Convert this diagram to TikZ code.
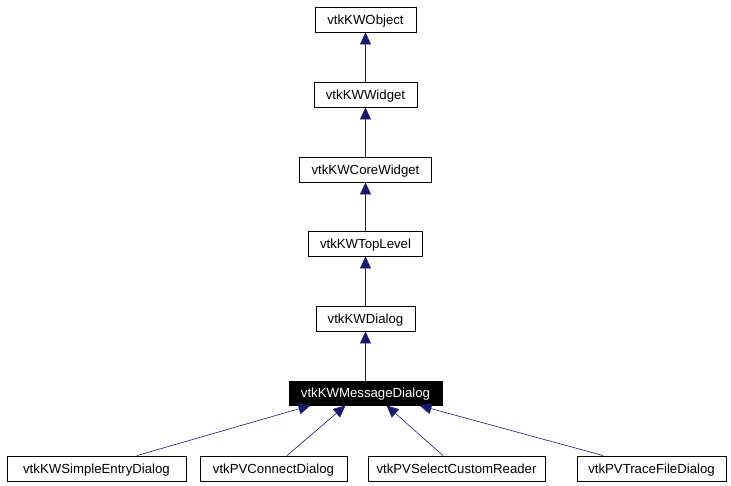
\documentclass[tikz,border=0pt]{standalone}
\usepackage{fontspec}
\setmainfont{Liberation Sans}
\usetikzlibrary{arrows.meta}
\definecolor{edgeblue}{HTML}{191970}
\begin{document}
\begin{tikzpicture}[x=1pt,y=-1pt,
  cls/.style={draw=black,line width=0.9pt,fill=white,inner sep=0pt,minimum height=25pt,text height=9.5pt,text depth=0pt,font=\fontsize{13.2}{15}\selectfont},
  cur/.style={cls,fill=black,text=white},
  arr/.style={draw=edgeblue,line width=0.9pt,-{Triangle[length=12pt,width=11pt]},color=edgeblue},
  arrt/.style={arr,line width=0.6pt}]
\useasboundingbox (0,0) rectangle (731,485);
\node[cls,minimum width=101pt] (obj) at (365.5,19.5) {vtkKWObject};
\node[cls,minimum width=103pt] (wid) at (365.5,94.5) {vtkKWWidget};
\node[cls,minimum width=132pt] (core) at (365.5,169.5) {vtkKWCoreWidget};
\node[cls,minimum width=114pt] (top) at (365.5,243.5) {vtkKWTopLevel};
\node[cls,minimum width=99pt] (dlg) at (365.5,318.5) {vtkKWDialog};
\node[cur,minimum width=153pt,minimum height=24pt] (msg) at (365.5,393) {vtkKWMessageDialog};
\node[cls,minimum width=179pt] (se) at (96.5,468.5) {vtkKWSimpleEntryDialog};
\node[cls,minimum width=147pt] (cd) at (273.5,468.5) {vtkPVConnectDialog};
\node[cls,minimum width=177pt] (scr) at (456.5,468.5) {vtkPVSelectCustomReader};
\node[cls,minimum width=149pt] (tfd) at (651.5,468.5) {vtkPVTraceFileDialog};
\draw[arr] (wid.north) -- (obj.south);
\draw[arr] (core.north) -- (wid.south);
\draw[arr] (top.north) -- (core.south);
\draw[arr] (dlg.north) -- (top.south);
\draw[arr] (msg.north) -- (dlg.south);
\draw[arrt] ([xshift=40.5pt]se.north) -- ([xshift=-55pt]msg.south);
\draw[arrt] ([xshift=13.5pt]cd.north) -- ([xshift=-20pt]msg.south);
\draw[arrt] ([xshift=-13.5pt]scr.north) -- ([xshift=21pt]msg.south);
\draw[arrt] ([xshift=-48.5pt]tfd.north) -- ([xshift=54pt]msg.south);
\end{tikzpicture}
\end{document}
